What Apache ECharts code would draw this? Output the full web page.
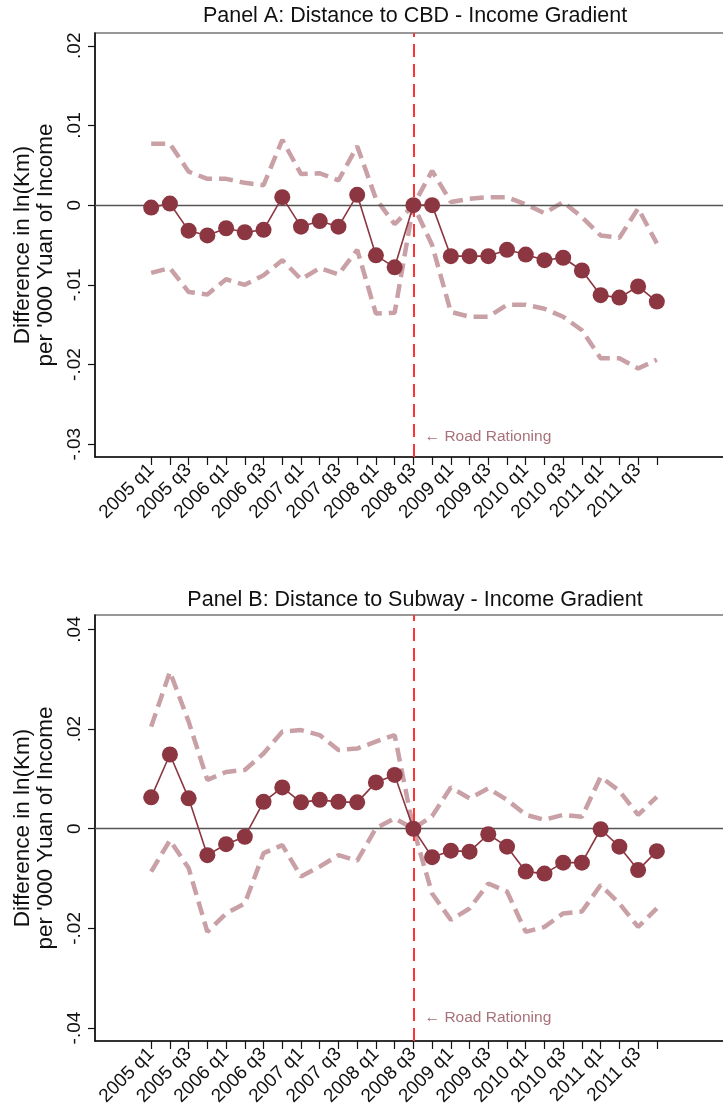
<!DOCTYPE html>
<html><head><meta charset="utf-8">
<script src="https://cdn.jsdelivr.net/npm/echarts@6/dist/echarts.min.js"></script>
<style>html,body{margin:0;padding:0;background:#fff}#c{width:723px;height:1116px}</style>
</head><body><div id="c"></div>
<script>
var quarters = ['2005 q1','2005 q2','2005 q3','2005 q4','2006 q1','2006 q2','2006 q3','2006 q4',
 '2007 q1','2007 q2','2007 q3','2007 q4','2008 q1','2008 q2','2008 q3','2008 q4',
 '2009 q1','2009 q2','2009 q3','2009 q4','2010 q1','2010 q2','2010 q3','2010 q4',
 '2011 q1','2011 q2','2011 q3','2011 q4'];
var labelQuarters = ['2005 q1','2005 q3','2006 q1','2006 q3','2007 q1','2007 q3','2008 q1','2008 q3',
 '2009 q1','2009 q3','2010 q1','2010 q3','2011 q1','2011 q3'];
var policyQuarter = '2008 q3';

var cbdCoef = [-0.0003,0.0002,-0.0032,-0.0038,-0.0029,-0.0034,-0.0031,0.0010,-0.0027,-0.0020,-0.0027,0.0013,-0.0063,-0.0078,
  0,0.0000,-0.0064,-0.0064,-0.0064,-0.0056,-0.0062,-0.0069,-0.0066,-0.0082,-0.0113,-0.0116,-0.0102,-0.0121];
var cbdUpper = [0.0077,0.0077,0.0042,0.0033,0.0033,0.0028,0.0025,0.0082,0.0039,0.0040,0.0031,0.0074,0.0008,-0.0024,
  0,0.0043,0.0004,0.0008,0.0010,0.0010,0.0001,-0.0010,0.0004,-0.0015,-0.0038,-0.0041,-0.0004,-0.0048];
var cbdLower = [-0.0085,-0.0079,-0.0109,-0.0112,-0.0093,-0.0100,-0.0088,-0.0069,-0.0093,-0.0079,-0.0087,-0.0056,-0.0136,-0.0135,
  0,-0.0050,-0.0134,-0.0140,-0.0140,-0.0125,-0.0125,-0.0130,-0.0140,-0.0157,-0.0192,-0.0192,-0.0205,-0.0194];

var subCoef = [0.0063,0.0149,0.0061,-0.0053,-0.0031,-0.0016,0.0054,0.0083,0.0053,0.0058,0.0054,0.0053,0.0093,0.0108,
  0,-0.0057,-0.0044,-0.0046,-0.0011,-0.0036,-0.0086,-0.0090,-0.0068,-0.0068,-0.0001,-0.0036,-0.0083,-0.0045];
var subUpper = [0.0205,0.0315,0.0215,0.0098,0.0114,0.0118,0.0151,0.0195,0.0198,0.0188,0.0158,0.0161,0.0175,0.0188,
  0,0.0025,0.0083,0.0061,0.0081,0.0058,0.0028,0.0018,0.0028,0.0024,0.0104,0.0076,0.0028,0.0064];
var subLower = [-0.0086,-0.0023,-0.0079,-0.0207,-0.0170,-0.0150,-0.0049,-0.0033,-0.0096,-0.0076,-0.0053,-0.0064,0.0001,0.0021,
  0,-0.0130,-0.0183,-0.0160,-0.0110,-0.0126,-0.0207,-0.0197,-0.0170,-0.0166,-0.0113,-0.0150,-0.0197,-0.0160];

var cbdTicks = [-0.03,-0.02,-0.01,0,0.01,0.02];
var subTicks = [-0.04,-0.02,0,0.02,0.04];
var titles = ['Panel A: Distance to CBD - Income Gradient','Panel B: Distance to Subway - Income Gradient'];
var yTitle = "Difference in ln(Km)\nper '000 Yuan of Income";
var annotation = '\u2190 Road Rationing';

var FONT = "'Liberation Sans', Arial, Helvetica, sans-serif";
var COL_PT = '#8b3640', COL_CI = '#c9a0a5', COL_RED = '#ff3333', COL_NOTE = '#a8707a';
var idx = function(q){ return quarters.indexOf(q); };
var pairs = function(arr){ return arr.map(function(v,i){ return [i,v]; }); };
var fmtY = function(v){ var r = Math.round(v*100)/100; if (Math.abs(r) < 1e-9) return '0';
  var s = Math.abs(r).toFixed(2).replace(/^0/,''); return (r<0?'-':'') + s; };

var labelIdx = labelQuarters.map(idx);
var tickIdx = quarters.map(function(q,i){return i;});
var pIdx = idx(policyQuarter);

function xAxisFor(gi){
  return { type:'value', gridIndex:gi, min:-3, max:30.8,
    axisLine:{show:true, onZero:false, lineStyle:{color:'#111', width:1.6}},
    axisTick:{show:true, length:8, customValues:tickIdx, lineStyle:{color:'#111', width:1.2}},
    axisLabel:{show:true, customValues:labelIdx, rotate:45, margin:10, fontSize:19, color:'#111', fontFamily:FONT,
      formatter:function(v){ return quarters[Math.round(v)] || ''; }},
    splitLine:{show:false} };
}
function yAxisFor(gi, mn, mx, ticks){
  return { type:'value', gridIndex:gi, min:mn, max:mx,
    name: yTitle, nameLocation:'middle', nameRotate:90, nameGap:38,
    nameTextStyle:{fontSize:22.5, color:'#111', fontFamily:FONT, lineHeight:23, align:'center'},
    axisLine:{show:true, onZero:false, lineStyle:{color:'#111', width:1.6}},
    axisTick:{show:true, length:7, customValues:ticks, lineStyle:{color:'#111', width:1.2}},
    axisLabel:{show:true, customValues:ticks, rotate:90, margin:11, fontSize:19, color:'#111', fontFamily:FONT, formatter:fmtY},
    splitLine:{show:false} };
}
function ciSeries(gi, arr){
  return { type:'line', xAxisIndex:gi, yAxisIndex:gi, data:pairs(arr), symbol:'none', z:2, silent:true,
    lineStyle:{color:COL_CI, width:4.5, type:[14,7]} };
}
function coefSeries(gi, arr, noteY){
  return { type:'line', xAxisIndex:gi, yAxisIndex:gi, data:pairs(arr), z:5, silent:true,
    symbol:'circle', symbolSize:16, itemStyle:{color:COL_PT}, lineStyle:{color:COL_PT, width:1.6},
    markLine:{ silent:true, symbol:'none', label:{show:false}, animation:false,
      data:[ {yAxis:0, lineStyle:{color:'#555', width:1.4, type:'solid'}},
             {xAxis:pIdx, lineStyle:{color:COL_RED, width:2, type:[13,7]}} ] },
    markPoint:{ silent:true, symbol:'circle', symbolSize:0, animation:false,
      data:[{coord:[pIdx+0.6, noteY], label:{show:true, formatter:annotation, position:'right', distance:0,
        color:COL_NOTE, fontSize:15.5, fontFamily:FONT}}] } };
}

var chart = echarts.init(document.getElementById('c'), null, {renderer:'canvas'});
chart.setOption({
  animation:false,
  backgroundColor:'#fff',
  graphic:[
    {type:'text', x:415, y:16, style:{text:titles[0], font:'21.5px '+FONT, fill:'#111', textAlign:'center', textVerticalAlign:'middle'}},
    {type:'text', x:415, y:600, style:{text:titles[1], font:'21.5px '+FONT, fill:'#111', textAlign:'center', textVerticalAlign:'middle'}}
  ],
  grid:[
    {left:95, top:33, right:-5, height:424, show:true, borderColor:'#333', borderWidth:1.2, backgroundColor:'transparent', containLabel:false, outerBoundsMode:'none'},
    {left:95, top:615, right:-5, height:426, show:true, borderColor:'#333', borderWidth:1.2, backgroundColor:'transparent', containLabel:false, outerBoundsMode:'none'}
  ],
  xAxis:[xAxisFor(0), xAxisFor(1)],
  yAxis:[yAxisFor(0,-0.0316,0.0216,cbdTicks), yAxisFor(1,-0.0426,0.0429,subTicks)],
  series:[
    ciSeries(0, cbdUpper), ciSeries(0, cbdLower), coefSeries(0, cbdCoef, -0.0291),
    ciSeries(1, subUpper), ciSeries(1, subLower), coefSeries(1, subCoef, -0.0379)
  ]
});
</script></body></html>
